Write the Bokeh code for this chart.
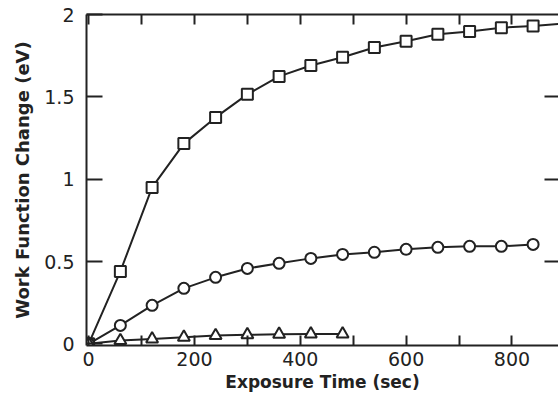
from bokeh.plotting import figure
from bokeh.models import LinearAxis, FixedTicker, Range1d
from bokeh.embed import file_html
from bokeh.resources import INLINE

# Data (exposure time in sec, work function change in eV)
t_square = [0, 60, 120, 180, 240, 300, 360, 420, 480, 540, 600, 660, 720, 780, 840, 900]
v_square = [0, 0.44, 0.95, 1.216, 1.375, 1.515, 1.624, 1.69, 1.74, 1.80, 1.837, 1.88, 1.897, 1.92, 1.93, 1.946]

t_circle = [0, 60, 120, 180, 240, 300, 360, 420, 480, 540, 600, 660, 720, 780, 840]
v_circle = [0, 0.112, 0.234, 0.337, 0.404, 0.458, 0.489, 0.519, 0.543, 0.556, 0.574, 0.586, 0.592, 0.592, 0.604]

t_tri = [0, 60, 120, 180, 240, 300, 360, 420, 480]
v_tri = [0, 0.02, 0.03, 0.04, 0.05, 0.055, 0.058, 0.06, 0.06]

x_major = [0, 200, 400, 600, 800]
x_minor = [100, 300, 500, 700]
x_all = [0, 100, 200, 300, 400, 500, 600, 700, 800]
y_ticks = [0, 0.5, 1, 1.5, 2]
y_inner = [0.5, 1, 1.5]
y_labels = {0: "0", 0.5: "0.5", 1: "1", 1.5: "1.5", 2: "2"}

FONT = "DejaVu Sans"
INK = "#222222"

p = figure(width=558, height=396, output_backend="svg", toolbar_location=None,
           x_range=Range1d(-4, 888), y_range=Range1d(-0.01, 2.0),
           x_axis_location=None, y_axis_location=None,
           min_border_left=86, min_border_right=0, min_border_top=14, min_border_bottom=51)
p.outline_line_color = None
p.xgrid.visible = False
p.ygrid.visible = False
p.background_fill_color = "white"
p.border_fill_color = "white"

def style_axis(ax, tin):
    ax.axis_line_color = INK
    ax.axis_line_width = 2
    ax.major_tick_line_color = INK
    ax.major_tick_line_width = 2
    ax.minor_tick_line_color = INK
    ax.minor_tick_line_width = 2
    ax.major_tick_in = tin
    ax.major_tick_out = 0
    ax.minor_tick_in = tin
    ax.minor_tick_out = 0
    ax.major_label_text_font = FONT
    ax.major_label_text_font_size = "19px"
    ax.major_label_text_color = INK

bottom = LinearAxis(ticker=FixedTicker(ticks=x_major, minor_ticks=x_minor),
                    axis_label="Exposure Time (sec)")
style_axis(bottom, 10)
bottom.major_label_standoff = 6
bottom.axis_label_standoff = 3
bottom.axis_label_text_font = FONT
bottom.axis_label_text_font_style = "bold"
bottom.axis_label_text_font_size = "17px"
bottom.axis_label_text_color = INK
p.add_layout(bottom, "below")

# top axis: ticks only (as minor ticks, so no labels are drawn)
top = LinearAxis(ticker=FixedTicker(ticks=[], minor_ticks=x_all))
style_axis(top, 10)
p.add_layout(top, "above")

left = LinearAxis(ticker=FixedTicker(ticks=y_ticks), axis_label="Work Function Change (eV)",
                  major_label_overrides=y_labels)
style_axis(left, 16)
left.major_label_standoff = 12
left.axis_label_standoff = 8
left.axis_label_text_font = FONT
left.axis_label_text_font_style = "bold"
left.axis_label_text_font_size = "18px"
left.axis_label_text_color = INK
p.add_layout(left, "left")

# right axis: inward ticks only, line falls outside the picture in the reference
right = LinearAxis(ticker=FixedTicker(ticks=[], minor_ticks=y_inner))
style_axis(right, 14)
right.axis_line_color = None
p.add_layout(right, "right")

# Square series
p.line(t_square, v_square, line_color=INK, line_width=2)
p.scatter(t_square, v_square, marker="square", size=11, fill_color="white",
          line_color=INK, line_width=2)
# Circle series
p.line(t_circle, v_circle, line_color=INK, line_width=2)
p.scatter(t_circle, v_circle, marker="circle", size=11, fill_color="white",
          line_color=INK, line_width=2)
# Triangle series
p.line(t_tri, v_tri, line_color=INK, line_width=2)
p.scatter(t_tri, v_tri, marker="triangle", size=12, fill_color="white",
          line_color=INK, line_width=2)

open("out.html", "w").write(file_html(p, INLINE))
